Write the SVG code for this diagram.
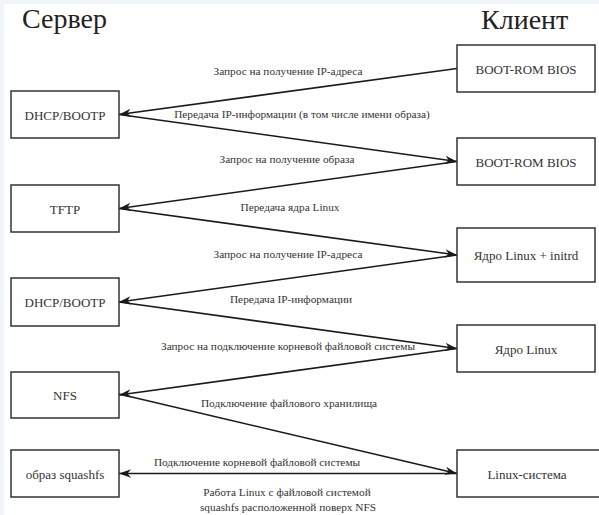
<svg xmlns="http://www.w3.org/2000/svg" width="599" height="515" viewBox="0 0 599 515">
<style>
.box rect{fill:#fff;stroke:#333;stroke-width:1.5}
.box text{font-family:'Liberation Serif','DejaVu Serif','Times New Roman',serif;font-size:13px;fill:#333;text-anchor:middle}
.title{font-family:'Liberation Serif','DejaVu Serif','Times New Roman',serif;font-size:28px;fill:#222}
.lbl{font-family:'Liberation Serif','DejaVu Serif','Times New Roman',serif;font-size:11.3px;fill:#333;text-anchor:middle}
#connectors line{stroke:#1a1a1a;stroke-width:1.6;fill:none}
</style>
<defs>
<marker id="ah" markerUnits="userSpaceOnUse" markerWidth="14" markerHeight="10" refX="12" refY="5" orient="auto">
<path d="M0,0.8 L12,5 L0,9.2 L3.5,5 z" fill="#1a1a1a"/>
</marker>
</defs>
<rect x="0" y="0" width="599" height="515" fill="#eef4f8"/>
<rect x="4" y="4" width="595" height="511" fill="#fff"/>
<text class="title" x="22" y="28">Сервер</text>
<text class="title" x="481" y="29">Клиент</text>
<g id="connectors">
<line x1="457" y1="68.5" x2="119" y2="114.5" marker-end="url(#ah)"/>
<line x1="119" y1="114.5" x2="457" y2="161.5" marker-end="url(#ah)"/>
<line x1="457" y1="161.5" x2="119" y2="208.5" marker-end="url(#ah)"/>
<line x1="119" y1="208.5" x2="457" y2="255" marker-end="url(#ah)"/>
<line x1="457" y1="255" x2="119" y2="302" marker-end="url(#ah)"/>
<line x1="119" y1="302" x2="457" y2="348.5" marker-end="url(#ah)"/>
<line x1="457" y1="348.5" x2="119" y2="395" marker-end="url(#ah)"/>
<line x1="119" y1="394" x2="457" y2="473.5" marker-end="url(#ah)"/>
<line x1="457" y1="473.5" x2="119" y2="473.5" marker-end="url(#ah)"/>
</g>
<g id="labels">
<text class="lbl" x="288" y="75">Запрос на получение IP-адреса</text>
<text class="lbl" x="302" y="118">Передача IP-информации (в том числе имени образа)</text>
<text class="lbl" x="287" y="163">Запрос на получение образа</text>
<text class="lbl" x="290" y="211">Передача ядра Linux</text>
<text class="lbl" x="288" y="258">Запрос на получение IP-адреса</text>
<text class="lbl" x="291" y="303">Передача IP-информации</text>
<text class="lbl" x="288" y="350">Запрос на подключение корневой файловой системы</text>
<text class="lbl" x="289" y="407">Подключение файлового хранилища</text>
<text class="lbl" x="257" y="466">Подключение корневой файловой системы</text>
<text class="lbl" x="287" y="496">Работа Linux с файловой системой</text>
<text class="lbl" x="288" y="511">squashfs расположенной поверх NFS</text>
</g>
<g id="srv-dhcp1" class="box"><rect x="11" y="91" width="108" height="47"/><text x="65" y="120">DHCP/BOOTP</text></g>
<g id="srv-tftp" class="box"><rect x="11" y="185" width="108" height="47"/><text x="65" y="214">TFTP</text></g>
<g id="srv-dhcp2" class="box"><rect x="11" y="278" width="108" height="48"/><text x="65" y="307">DHCP/BOOTP</text></g>
<g id="srv-nfs" class="box"><rect x="11" y="372" width="108" height="46"/><text x="65" y="400">NFS</text></g>
<g id="srv-squashfs" class="box"><rect x="11" y="450" width="108" height="47"/><text x="65" y="479">образ squashfs</text></g>
<g id="cl-boot1" class="box"><rect x="457" y="45" width="138" height="47"/><text x="526" y="74">BOOT-ROM BIOS</text></g>
<g id="cl-boot2" class="box"><rect x="457" y="138" width="138" height="47"/><text x="526" y="167">BOOT-ROM BIOS</text></g>
<g id="cl-initrd" class="box"><rect x="457" y="228" width="138" height="54"/><text x="526" y="260">Ядро Linux + initrd</text></g>
<g id="cl-kernel" class="box"><rect x="457" y="325" width="138" height="47"/><text x="526" y="354">Ядро Linux</text></g>
<g id="cl-linux" class="box"><rect x="457" y="450" width="145" height="47"/><text x="527" y="479">Linux-система</text></g>
</svg>
